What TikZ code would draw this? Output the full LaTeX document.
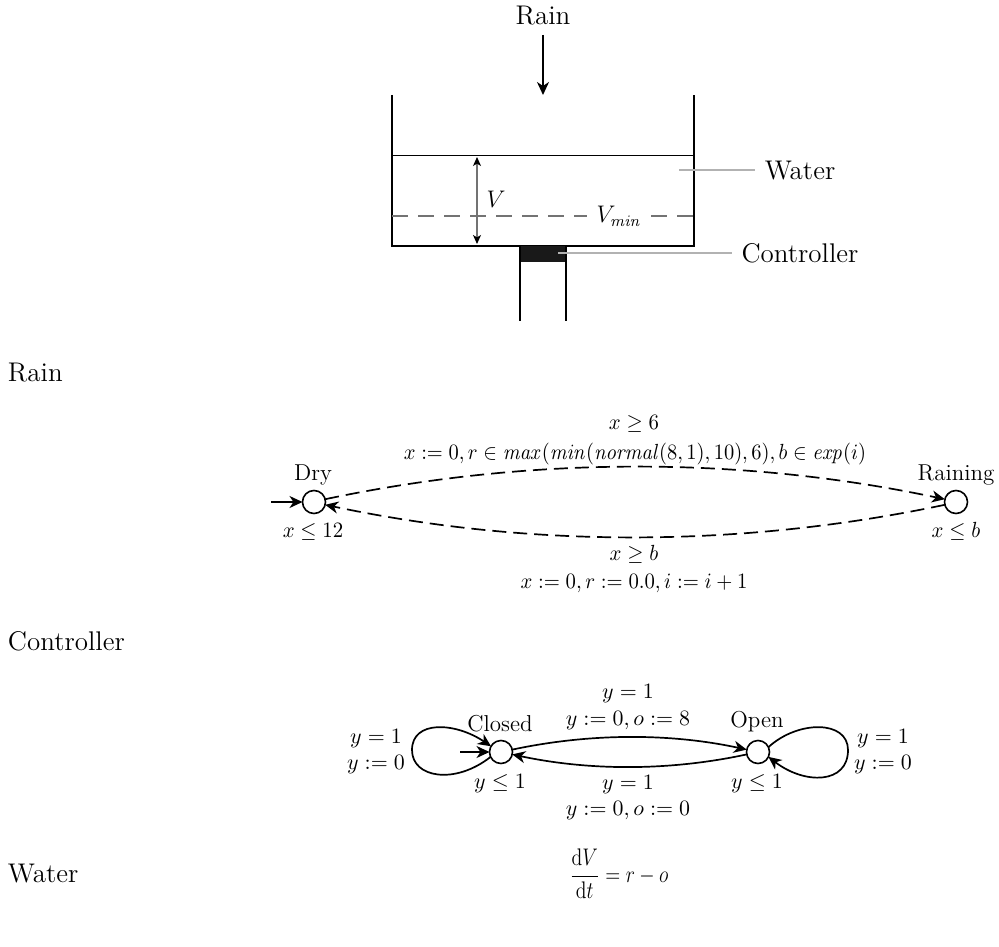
\documentclass[tikz,border=0pt]{standalone}
\usetikzlibrary{arrows.meta}
\newcommand\tsize{\fontsize{13.5}{15}\selectfont}
\newcommand\ssize{\fontsize{11.5}{13}\selectfont}
\newcommand\lsize{\fontsize{11}{13}\selectfont}
\newcommand\msize{\fontsize{12}{14}\selectfont}
\tikzset{
  every node/.style={inner sep=0pt,outer sep=0pt},
  big/.style={font=\tsize,anchor=base},
  sect/.style={font=\tsize,anchor=base west},
  statename/.style={font=\ssize,anchor=base},
  lab/.style={font=\lsize,anchor=base},
  state/.style={circle,draw,line width=0.8pt,minimum size=11.5pt,fill=white},
  tip/.style={-{Stealth[length=6.5pt,width=6pt,inset=2pt]}},
  edge/.style={tip,line width=0.85pt},
  dashedge/.style={edge,dash pattern=on 7pt off 3.5pt},
  wall/.style={line width=0.9pt},
  leader/.style={line width=0.9pt,black!30},
}
\begin{document}
\begin{tikzpicture}[x=0.5pt,y=-0.5pt]
\useasboundingbox (0,0) rectangle (999,946);
% tank
\node[big] (rainlbl) at (543,25) {Rain};
\coordinate (rainstart) at (543,35);
\coordinate (raintip) at (543,95);
\draw[edge] (rainstart) -- (raintip);
\draw[wall,line join=miter] (392,95) -- (392,246) -- (694,246) -- (694,95);
\draw[line width=0.4pt] (392,155) -- (694,155);
\draw[line width=0.7pt,black!55,dash pattern=on 8pt off 5pt] (392,216) -- (587,216);
\draw[line width=0.7pt,black!55,dash pattern=on 8pt off 5pt] (651,216) -- (694,216);
\coordinate (vtop) at (477,157);
\coordinate (vbot) at (477,244);
\draw[{Stealth[length=4.5pt,width=4pt,inset=1.2pt,black]}-{Stealth[length=4.5pt,width=4pt,inset=1.2pt,black]},line width=0.6pt,black!55] (vtop) -- (vbot);
\node[anchor=base,font=\msize] (v) at (496,208) {$V$};
\node[anchor=base,font=\msize] (vmin) at (619,223) {$V_{\mathit{min}}$};
\fill[black!90] (520,246) rectangle (566,262);
\draw[wall] (520,246) -- (520,321);
\draw[wall] (566,246) -- (566,321);
\node[big] (water) at (800,180) {Water};
\node[big] (ctrl) at (800,263) {Controller};
\coordinate (wl) at (679,170);
\coordinate (cl) at (558,253);
\draw[leader] (wl) -- (755,170);
\draw[leader] (cl) -- (732,253);
% section headings
\node[sect] (s1) at (8,381) {Rain};
\node[sect] (s2) at (8,650) {Controller};
\node[sect] (s3) at (8,882) {Water};
% rain automaton
\node[state] (dry) at (314,502) {};
\node[state] (raining) at (956,502) {};
\coordinate (dryin) at (271,502);
\draw[edge] (dryin) -- (dry);
\node[statename] at (313,480) {Dry};
\node[statename] at (956,480) {Raining};
\node[lab] at (313,537) {\scalebox{0.95}[1]{$x\leq 12$}};
\node[lab] at (956,537) {\scalebox{0.95}[1]{$x\leq b$}};
\draw[dashedge] (dry.14) .. controls (530,456) and (740,456) .. (raining.166);
\draw[dashedge] (raining.194) .. controls (740,548) and (530,548) .. (dry.346);
\node[lab] at (634,429) {\scalebox{0.95}[1]{$x\geq 6$}};
\node[lab] at (635,459) {\scalebox{0.935}[1]{$x:=0,r\in \mathit{max}(\mathit{min}(\mathit{normal}(8,1),10),6),b\in \mathit{exp}(i)$}};
\node[lab] at (634,560) {\scalebox{0.95}[1]{$x\geq b$}};
\node[lab] at (634,588) {\scalebox{0.945}[1]{$x:=0,r:=0.0,i:=i+1$}};
% controller automaton
\node[state] (closed) at (501,752) {};
\node[state] (open) at (758,752) {};
\coordinate (closedin) at (460,752);
\draw[edge] (closedin) -- (closed);
\node[statename] at (500,731) {Closed};
\node[statename] at (757,727) {Open};
\node[lab] at (500,788) {$y\leq 1$};
\node[lab] at (757,788) {$y\leq 1$};
\draw[edge] (closed.12) .. controls (590,733) and (670,733) .. (open.168);
\draw[edge] (open.192) .. controls (670,771) and (590,771) .. (closed.348);
\draw[edge] (closed.205) .. controls (455,785) and (412,778) .. (412,750) .. controls (412,720) and (455,722) .. (closed.150);
\draw[edge] (open.25) .. controls (798,720) and (848,720) .. (848,750) .. controls (848,784) and (805,785) .. (open.335);
\node[lab] at (628,698) {$y=1$};
\node[lab] at (628,725) {$y:=0,o:=8$};
\node[lab] at (628,789) {$y=1$};
\node[lab] at (628,815) {$y:=0,o:=0$};
\node[lab] at (376,743) {$y=1$};
\node[lab] at (376,769) {$y:=0$};
\node[lab] at (883,743) {$y=1$};
\node[lab] at (883,769) {$y:=0$};
% ode
\node[font=\msize] (ode) at (619,874) {\scalebox{0.82}[1]{$\displaystyle\frac{\mathrm{d}V}{\mathrm{d}t}=r-o$}};
\end{tikzpicture}
\end{document}
